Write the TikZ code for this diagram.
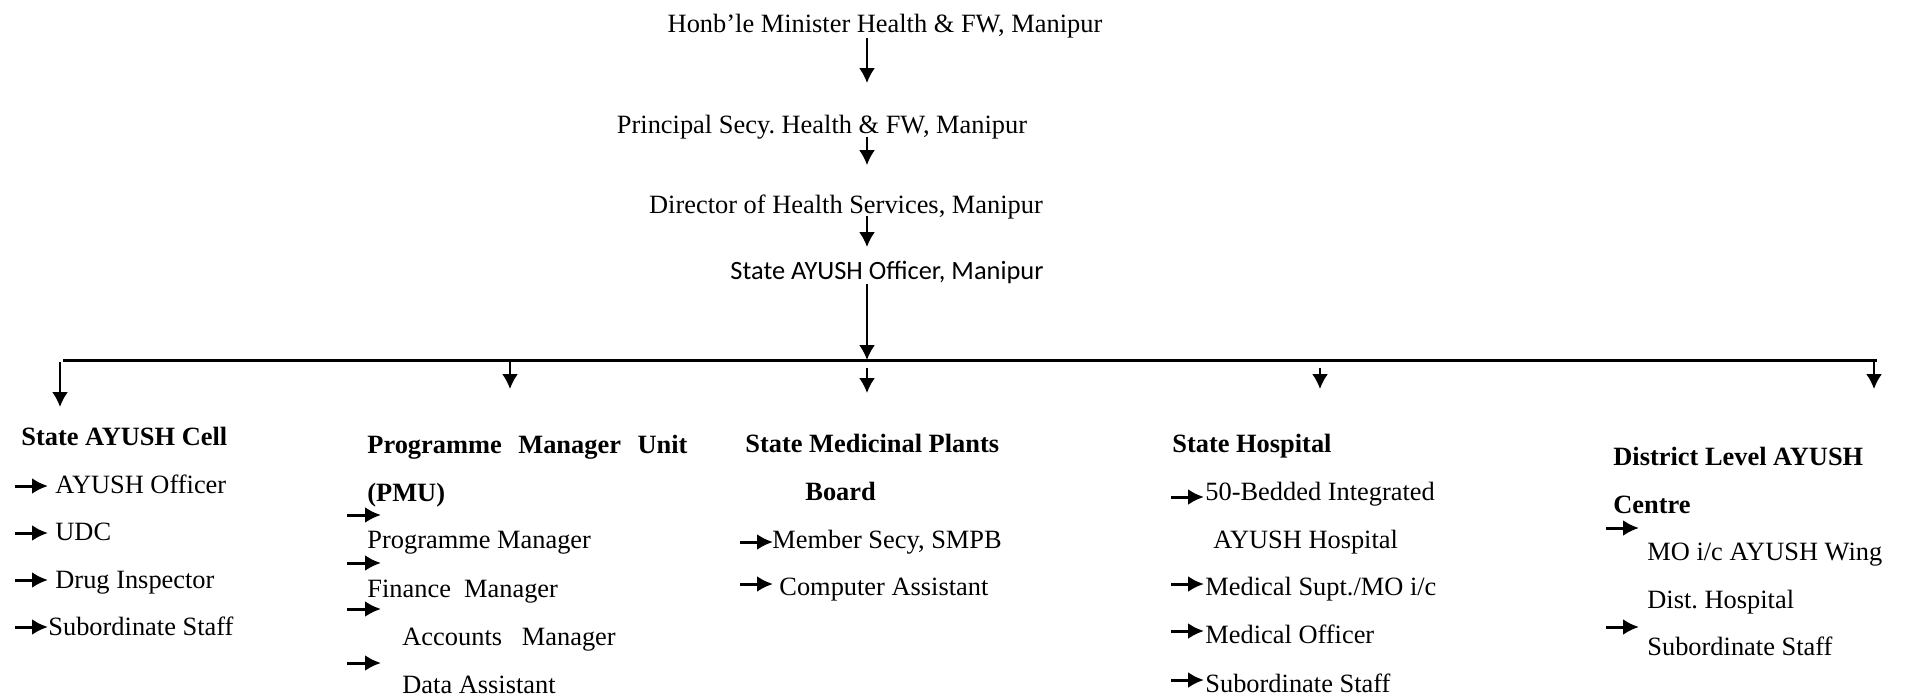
\documentclass[tikz,border=0pt]{standalone}
\usepackage{fontspec}
\setmainfont{Liberation Serif}
\newfontfamily\calibrifont{Carlito}
\usetikzlibrary{arrows.meta}
\frenchspacing

\tikzset{
  lbl/.style={font=\fontsize{13.2}{16}\selectfont, inner sep=0pt, anchor=base west},
  head/.style={lbl, font=\fontsize{13.2}{16}\selectfont\bfseries},
  down/.style={-{Latex[length=7.5pt,width=8pt]}, line width=1pt},
  tick/.style={-{Latex[length=8pt,width=8pt]}, line width=1.5pt},
  busline/.style={line width=1.5pt}
}

\begin{document}
\begin{tikzpicture}[x=0.5pt,y=-0.5pt]
\useasboundingbox (0,0) rectangle (1907,697);

% chain of command
\coordinate (bus) at (867,360);
\node[lbl, anchor=base] (minister) at (885,32) {Honb’le Minister Health \& FW, Manipur};
\node[lbl, anchor=base] (secy) at (822,133) {Principal Secy. Health \& FW, Manipur};
\node[lbl, anchor=base] (dhs) at (846,213) {Director of Health Services, Manipur};
\node[lbl, anchor=base, font=\calibrifont\fontsize{13.2}{16}\selectfont] (sao) at (887,279) {State AYUSH Officer, Manipur};
\draw[down] (minister.south -| bus) -- ++(0,45);
\draw[down] (secy.south -| bus) ++(0,-2) -- ++(0,28);
\draw[down] (dhs.south -| bus) ++(0,-3) -- ++(0,31);
\draw[down] (sao.south -| bus) -- (bus);

% horizontal bus and drops
\coordinate (busL) at (63,360);
\coordinate (busR) at (1877,360);
\draw[busline] (busL) -- (busR);
\draw[down] (60,362) -- (60,407);
\draw[down] (510,362) -- (510,389);
\draw[down] (867,368) -- (867,393);
\draw[down] (1320,368) -- (1320,389);
\draw[down] (1874,362) -- (1874,389);

% State AYUSH Cell
\node[head] (cell) at (21,445) {State AYUSH Cell};
\node[lbl] (cell1) at (55,493) {AYUSH Officer};
\node[lbl] (cell2) at (55,540) {UDC};
\node[lbl] (cell3) at (55,588) {Drug Inspector};
\node[lbl] (cell4) at (48,635) {Subordinate Staff};
\draw[tick] (15,486) -- (48,486);
\draw[tick] (15,533) -- (48,533);
\draw[tick] (15,580) -- (48,580);
\draw[tick] (15,627) -- (48,627);

% PMU
\node[head] (pmu) at (367,453) {\makebox[160pt][s]{Programme Manager Unit}};
\node[head] (pmu0) at (367,501) {(PMU)};
\node[lbl] (pmu1) at (367,548) {Programme Manager};
\node[lbl] (pmu2) at (367,597) {Finance\ \ Manager};
\node[lbl] (pmu3) at (402,645) {Accounts\ \ \ Manager};
\node[lbl] (pmu4) at (402,693) {Data Assistant};
\draw[tick] (347,515) -- (381,515);
\draw[tick] (347,563) -- (381,563);
\draw[tick] (347,609) -- (381,609);
\draw[tick] (347,663) -- (381,663);

% SMPB
\node[head] (smpb) at (745,452) {State Medicinal Plants};
\node[head] (smpb0) at (805,500) {Board};
\node[lbl] (smpb1) at (772,548) {Member Secy, SMPB};
\node[lbl] (smpb2) at (779,595) {Computer Assistant};
\draw[tick] (740,542) -- (773,542);
\draw[tick] (740,584) -- (773,584);

% State Hospital
\node[head] (hosp) at (1172,452) {State Hospital};
\node[lbl] (hosp1) at (1205,500) {50-Bedded Integrated};
\node[lbl] (hosp1b) at (1213,548) {AYUSH Hospital};
\node[lbl] (hosp2) at (1205,595) {Medical Supt./MO i/c};
\node[lbl] (hosp3) at (1205,643) {Medical Officer};
\node[lbl] (hosp4) at (1205,692) {Subordinate Staff};
\draw[tick] (1171,497) -- (1204,497);
\draw[tick] (1171,584) -- (1204,584);
\draw[tick] (1171,631) -- (1204,631);
\draw[tick] (1171,680) -- (1204,680);

% District Level AYUSH Centre
\node[head] (dist) at (1613,465) {District Level AYUSH};
\node[head] (dist0) at (1613,513) {Centre};
\node[lbl] (dist1) at (1647,560) {MO i/c AYUSH Wing};
\node[lbl] (dist1b) at (1647,608) {Dist. Hospital};
\node[lbl] (dist2) at (1647,655) {Subordinate Staff};
\draw[tick] (1606,528) -- (1639,528);
\draw[tick] (1606,627) -- (1639,627);
\end{tikzpicture}
\end{document}
